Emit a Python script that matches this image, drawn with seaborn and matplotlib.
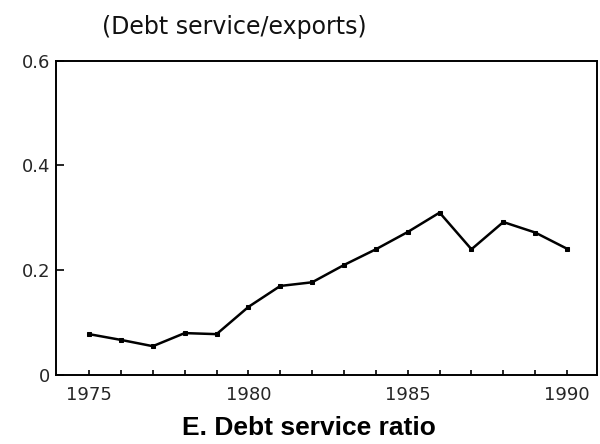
import matplotlib
matplotlib.use("Agg")
import matplotlib.pyplot as plt
import seaborn as sns
import pandas as pd

# Debt service as a share of exports, 1975-1990
years = [1975, 1976, 1977, 1978, 1979, 1980, 1981, 1982,
         1983, 1984, 1985, 1986, 1987, 1988, 1989, 1990]
ratio = [0.078, 0.067, 0.055, 0.080, 0.078, 0.130, 0.170, 0.177,
         0.210, 0.240, 0.273, 0.310, 0.240, 0.292, 0.272, 0.241]

y_ticks = [0.0, 0.2, 0.4, 0.6]
y_tick_labels = ["0", "0.2", "0.4", "0.6"]
x_label_years = [1975, 1980, 1985, 1990]

sns.set_style("ticks")
plt.rcParams["font.family"] = ["DejaVu Sans"]

df = pd.DataFrame({"year": years, "ratio": ratio})

fig = plt.figure(figsize=(6.0, 4.44), dpi=100)
ax = fig.add_axes([0.0933, 0.1554, 0.9017, 0.7079])

sns.lineplot(data=df, x="year", y="ratio", ax=ax, color="black",
             linewidth=1.8, marker="s", markersize=3.2,
             markeredgecolor="black", markerfacecolor="black")

ax.set_xlim(1973.96, 1990.94)
ax.set_ylim(0, 0.6)

ax.set_xticks(years, minor=True)
ax.set_xticks(x_label_years)
ax.set_xticklabels([str(y) for y in x_label_years])
ax.set_yticks(y_ticks)
ax.set_yticklabels(y_tick_labels)

ax.tick_params(axis="x", which="both", direction="in", length=3.5,
               width=1.2, labelsize=13, pad=8, color="black")
ax.tick_params(axis="y", direction="in", length=5.5, width=1.2,
               labelsize=13, pad=4, color="black")
ax.set_xlabel("")
ax.set_ylabel("")

for side in ["left", "right", "top", "bottom"]:
    ax.spines[side].set_visible(True)
    ax.spines[side].set_linewidth(1.4)
    ax.spines[side].set_color("black")

fig.text(0.17, 1 - 34 / 444, "(Debt service/exports)", ha="left",
         va="baseline", fontsize=17, color="#111111")
fig.text(0.303, 1 - 435 / 444, "E. Debt service ratio", ha="left",
         va="baseline", fontsize=19, fontweight="bold",
         family=["Liberation Sans", "DejaVu Sans"], color="black")

fig.savefig("out.png", dpi=100, facecolor="white")
